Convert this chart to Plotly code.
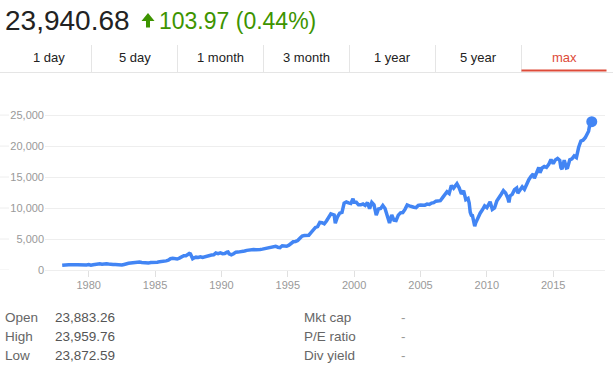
import plotly.graph_objects as go

# ---- data ----
dates = [
 "1978-01","1978-03","1978-05","1978-07","1978-09","1978-11",
 "1979-01","1979-03","1979-05","1979-07","1979-09","1979-11",
 "1980-01","1980-03","1980-05","1980-07","1980-09","1980-11",
 "1981-01","1981-03","1981-05","1981-07","1981-09","1981-11",
 "1982-01","1982-03","1982-05","1982-07","1982-09","1982-11",
 "1983-01","1983-03","1983-05","1983-07","1983-09","1983-11",
 "1984-01","1984-03","1984-05","1984-07","1984-09","1984-11",
 "1985-01","1985-03","1985-05","1985-07","1985-09","1985-11",
 "1986-01","1986-03","1986-05","1986-07","1986-09","1986-11",
 "1987-01","1987-03","1987-05","1987-07","1987-08","1987-09","1987-10","1987-11","1987-12",
 "1988-02","1988-04","1988-06","1988-08","1988-10","1988-12",
 "1989-02","1989-04","1989-06","1989-08","1989-10","1989-12",
 "1990-02","1990-04","1990-06","1990-07","1990-08","1990-10","1990-12",
 "1991-02","1991-04","1991-06","1991-08","1991-10","1991-12",
 "1992-02","1992-04","1992-06","1992-08","1992-10","1992-12",
 "1993-02","1993-04","1993-06","1993-08","1993-10","1993-12",
 "1994-02","1994-04","1994-06","1994-08","1994-10","1994-12",
 "1995-02","1995-04","1995-06","1995-08","1995-10","1995-12",
 "1996-02","1996-04","1996-06","1996-08","1996-10","1996-12",
 "1997-02","1997-04","1997-06","1997-08","1997-10","1997-12",
 "1998-02","1998-04","1998-06","1998-07","1998-08","1998-10","1998-12",
 "1999-02","1999-04","1999-06","1999-08","1999-10","1999-12",
 "2000-01","2000-03","2000-05","2000-07","2000-09","2000-11",
 "2001-01","2001-03","2001-05","2001-07","2001-09","2001-11",
 "2002-01","2002-03","2002-05","2002-07","2002-09","2002-11",
 "2003-01","2003-03","2003-05","2003-07","2003-09","2003-11",
 "2004-01","2004-03","2004-05","2004-07","2004-09","2004-11",
 "2005-01","2005-03","2005-05","2005-07","2005-09","2005-11",
 "2006-01","2006-03","2006-05","2006-07","2006-09","2006-11",
 "2007-01","2007-03","2007-05","2007-07","2007-09","2007-10","2007-12",
 "2008-02","2008-04","2008-06","2008-08","2008-09","2008-10","2008-11","2008-12",
 "2009-02","2009-03","2009-05","2009-07","2009-09","2009-11",
 "2010-01","2010-03","2010-04","2010-06","2010-08","2010-10","2010-12",
 "2011-02","2011-04","2011-06","2011-08","2011-09","2011-10","2011-12",
 "2012-02","2012-04","2012-05","2012-07","2012-09","2012-11",
 "2013-01","2013-03","2013-05","2013-07","2013-08","2013-10","2013-12",
 "2014-01","2014-03","2014-05","2014-07","2014-09","2014-11",
 "2015-01","2015-03","2015-05","2015-07","2015-08","2015-09","2015-11",
 "2016-01","2016-02","2016-04","2016-06","2016-08","2016-10","2016-11","2016-12",
 "2017-02","2017-04","2017-06","2017-08","2017-09","2017-10","2017-11-28",
]
values = [
 770,757,840,862,866,799,
 839,862,822,846,878,822,
 876,786,851,935,932,993,
 947,1004,992,952,850,889,
 871,822,819,809,896,1039,
 1075,1130,1200,1199,1233,1276,
 1220,1165,1105,1115,1207,1188,
 1287,1267,1315,1348,1329,1472,
 1571,1819,1877,1775,1768,1914,
 2158,2305,2291,2572,2663,2596,1994,1834,1939,
 2072,2032,2142,2032,2149,2169,
 2259,2419,2440,2737,2645,2753,
 2627,2657,2881,2905,2614,2442,2634,
 2882,2888,2907,3044,3069,3169,
 3267,3359,3319,3257,3226,3301,
 3370,3428,3516,3651,3681,3754,
 3832,3681,3625,3913,3908,3834,
 4011,4321,4556,4610,4756,5117,
 5485,5569,5655,5616,6029,6448,
 6877,7009,7673,7622,7442,7908,
 8546,9063,8952,8883,7539,8592,9181,
 9307,10789,10971,10829,10729,11497,
 10941,10922,10522,10522,10651,10415,
 10887,9879,10912,10523,8848,9852,
 9920,10404,9925,8737,7592,8896,
 8054,7992,8850,9234,9275,9782,
 10488,10357,10188,10140,10080,10428,
 10490,10504,10467,10641,10569,10806,
 10865,11109,11168,11186,11679,12222,
 12622,12354,13628,13212,13896,13930,13265,
 12266,12820,11350,11544,10851,9325,8829,8776,
 7063,7609,8500,9172,9712,10345,
 10067,10857,11009,9774,10015,11118,11578,
 12226,12811,12414,11614,10913,11955,12218,
 12952,13214,12393,13009,13437,13026,
 13861,14579,15116,15500,14810,15546,16577,
 15699,16458,16717,16563,17043,17828,
 17165,17776,18011,17690,16528,16285,17720,
 16466,16517,17774,17930,18401,18142,19124,19763,
 20812,20941,21350,21948,22405,23377,23940,
]
y_ticks = [0, 5000, 10000, 15000, 20000, 25000]
tabs = ["1 day", "5 day", "1 month", "3 month", "1 year", "5 year", "max"]
price = "23,940.68"
change = "103.97 (0.44%)"
stats_left = [("Open", "23,883.26"), ("High", "23,959.76"), ("Low", "23,872.59")]
stats_right = [("Mkt cap", "-"), ("P/E ratio", "-"), ("Div yield", "-")]

# ---- layout geometry (pixels) ----
W, H = 613, 377
L, R, T, B = 45, 8, 112, 107
PW = W - L - R
PH = H - T - B

def px(x):
    return (x - L) / PW

def py(y):
    return (H - B - y) / PH

FONT = "Arial, Liberation Sans, sans-serif"
BLUE = "#4285f4"
GREEN = "#3d9400"

fig = go.Figure()
fig.add_trace(go.Scatter(x=dates, y=values, mode="lines",
                         line=dict(color=BLUE, width=3.5), hoverinfo="skip"))
fig.add_trace(go.Scatter(x=[dates[-1]], y=[values[-1]], mode="markers",
                         marker=dict(color=BLUE, size=11), cliponaxis=False,
                         hoverinfo="skip"))

ann = []
shapes = []

# header
ann.append(dict(text=price, x=px(3), y=py(20), xanchor="left", yanchor="middle",
                font=dict(family=FONT, size=28, color="#222")))
ann.append(dict(text=change, x=px(157), y=py(21), xanchor="left", yanchor="middle",
                font=dict(family=FONT, size=23, color=GREEN)))
# arrow
pts = [(141.5, 21), (148, 13), (154.5, 21), (150, 21), (150, 27.5), (146, 27.5), (146, 21)]
path = "M " + " L ".join(f"{px(a):.5f},{py(b):.5f}" for a, b in pts) + " Z"
shapes.append(dict(type="path", xref="paper", yref="paper", path=path,
                   fillcolor=GREEN, line=dict(width=0)))

# tabs
tab_w = 86
x_start = 5.5
for i, t in enumerate(tabs):
    cx = x_start + tab_w * i + tab_w / 2
    ann.append(dict(text=t, x=px(cx), y=py(57.5), xanchor="center", yanchor="middle",
                    font=dict(family=FONT, size=13,
                              color="#dd4b39" if t == "max" else "#222")))
    if i > 0:
        sx = x_start + tab_w * i
        shapes.append(dict(type="line", xref="paper", yref="paper",
                           x0=px(sx), x1=px(sx), y0=py(45), y1=py(72),
                           line=dict(color="#e5e5e5", width=1)))
shapes.append(dict(type="line", xref="paper", yref="paper",
                   x0=px(0), x1=px(613), y0=py(72.5), y1=py(72.5),
                   line=dict(color="#e5e5e5", width=1)))
mx = x_start + tab_w * 6
shapes.append(dict(type="line", xref="paper", yref="paper",
                   x0=px(mx), x1=px(mx + tab_w - 1), y0=py(70.5), y1=py(70.5),
                   line=dict(color="#dd4b39", width=2)))

# left gridline stubs
for v in y_ticks:
    shapes.append(dict(type="line", xref="paper", yref="y",
                       x0=px(0), x1=px(9), y0=v, y1=v,
                       line=dict(color="#eeeeee", width=1)))

# stats
rows_y = [317.5, 336.5, 355]
for (lab, val), yy in zip(stats_left, rows_y):
    ann.append(dict(text=lab, x=px(2.5), y=py(yy), xanchor="left", yanchor="middle",
                    font=dict(family=FONT, size=13.5, color="#666")))
    ann.append(dict(text=val, x=px(52.5), y=py(yy), xanchor="left", yanchor="middle",
                    font=dict(family=FONT, size=13.5, color="#555")))
for (lab, val), yy in zip(stats_right, rows_y):
    ann.append(dict(text=lab, x=px(301.5), y=py(yy), xanchor="left", yanchor="middle",
                    font=dict(family=FONT, size=13.5, color="#666")))
    ann.append(dict(text=val, x=px(399), y=py(yy), xanchor="left", yanchor="middle",
                    font=dict(family=FONT, size=13.5, color="#999")))

for a in ann:
    a.update(xref="paper", yref="paper", showarrow=False)

fig.update_layout(
    width=W, height=H, margin=dict(l=L, r=R, t=T, b=B),
    paper_bgcolor="white", plot_bgcolor="white", showlegend=False,
    annotations=ann, shapes=shapes,
    xaxis=dict(type="date", range=["1976-09-15", "2018-11-27"],
               tick0="1980-01-01", dtick="M60", tickformat="%Y",
               showgrid=False, showline=True, linecolor="#eeeeee", linewidth=1,
               ticks="outside", ticklen=6, tickcolor="#e0e0e0",
               ticklabelstandoff=-1,
               tickfont=dict(family=FONT, size=11, color="#999"),
               zeroline=False, fixedrange=True),
    yaxis=dict(range=[0, 25500], tickvals=y_ticks,
               ticktext=[f"{v:,}" for v in y_ticks],
               showgrid=True, gridcolor="#eeeeee", gridwidth=1,
               zeroline=False, showline=False, ticks="",
               tickfont=dict(family=FONT, size=11, color="#999"),
               fixedrange=True),
)

fig.write_html("out.html", config={"displayModeBar": False},
               post_script="document.body.style.margin='0';document.body.style.overflow='hidden';")
